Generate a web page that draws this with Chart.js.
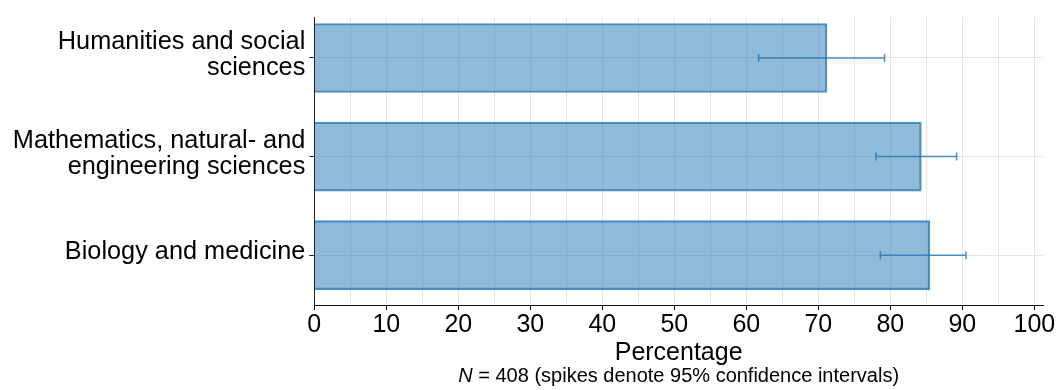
<!DOCTYPE html>
<html>
<head>
<meta charset="utf-8">
<script src="https://cdn.jsdelivr.net/npm/chart.js@4/dist/chart.umd.min.js"></script>
<style>
  html, body { margin: 0; padding: 0; background: #fff; }
  #wrap { width: 1059px; height: 390px; }
</style>
</head>
<body>
<div id="wrap"><canvas id="chart" width="1059" height="390"></canvas></div>
<script>
// Share of respondents per field, with 95% confidence limits
const categories = [
  ['Humanities and social', 'sciences'],
  ['Mathematics, natural- and', 'engineering sciences'],
  ['Biology and medicine']
];
const shares = [71.2, 84.3, 85.5];
const ciLower = [61.7, 78.0, 78.6];
const ciUpper = [79.2, 89.2, 90.5];
const xTickValues = [0, 5, 10, 15, 20, 25, 30, 35, 40, 45, 50, 55, 60, 65, 70, 75, 80, 85, 90, 95, 100];
const sampleSize = 408;

const FONT = '"Liberation Sans", Arial, sans-serif';
const BLUE = 'rgba(31,119,180,0.8)';

// Confidence-interval spikes drawn through the scales
const spikes = {
  id: 'spikes',
  afterDatasetsDraw(chart) {
    const { ctx, scales: { x, y } } = chart;
    ctx.save();
    ctx.strokeStyle = BLUE;
    ctx.lineWidth = 1.5;
    shares.forEach((_, i) => {
      const py = y.getPixelForValue(i);
      const x1 = x.getPixelForValue(ciLower[i]);
      const x2 = x.getPixelForValue(ciUpper[i]);
      ctx.beginPath();
      ctx.moveTo(x1, py); ctx.lineTo(x2, py);
      ctx.moveTo(x1, py - 4); ctx.lineTo(x1, py + 4);
      ctx.moveTo(x2, py - 4); ctx.lineTo(x2, py + 4);
      ctx.stroke();
    });
    ctx.restore();
  }
};

// Footnote under the axis title, with an italic N
const footnote = {
  id: 'footnote',
  afterDraw(chart) {
    const { ctx, chartArea } = chart;
    const parts = [
      { t: 'N', f: 'italic 20px ' + FONT },
      { t: ' = ' + sampleSize + ' (spikes denote 95% confidence intervals)', f: '20px ' + FONT }
    ];
    ctx.save();
    ctx.fillStyle = '#000';
    ctx.textBaseline = 'alphabetic';
    let total = 0;
    parts.forEach(p => { ctx.font = p.f; p.w = ctx.measureText(p.t).width; total += p.w; });
    let px = (chartArea.left + chartArea.right) / 2 - total / 2;
    parts.forEach(p => { ctx.font = p.f; ctx.fillText(p.t, px, 382.3); px += p.w; });
    ctx.restore();
  }
};

new Chart(document.getElementById('chart'), {
  type: 'bar',
  data: {
    datasets: [{
      data: shares.map((v, i) => ({ x: v, y: i })),
      backgroundColor: 'rgba(31,119,180,0.5)',
      borderColor: BLUE,
      borderWidth: 1.5,
      barThickness: 69
    }]
  },
  options: {
    indexAxis: 'y',
    responsive: false,
    animation: false,
    events: [],
    layout: { padding: { top: 13, right: 16, bottom: 0, left: 0 } },
    plugins: { legend: { display: false }, tooltip: { enabled: false } },
    scales: {
      x: {
        type: 'linear',
        min: 0,
        max: 101.2,
        afterBuildTicks: s => { s.ticks = xTickValues.map(v => ({ value: v })); },
        afterFit: s => { s.height = 85; },
        border: { color: '#111', width: 1 },
        grid: {
          color: '#e4e4e4',
          lineWidth: 1,
          tickLength: 5,
          tickColor: c => (c.tick && c.tick.value % 10 === 0) ? '#111' : 'rgba(0,0,0,0)'
        },
        ticks: {
          autoSkip: false,
          maxRotation: 0,
          padding: 2.5,
          color: '#000',
          font: { family: FONT, size: 25, lineHeight: 1.0 },
          callback: v => (v % 10 === 0 ? String(v) : '')
        },
        title: {
          display: true,
          text: 'Percentage',
          color: '#000',
          font: { family: FONT, size: 25, lineHeight: 1.0 },
          padding: { top: 0, bottom: 24 }
        }
      },
      y: {
        type: 'linear',
        reverse: true,
        offset: false,
        min: -0.415,
        max: 2.505,
        afterBuildTicks: s => { s.ticks = categories.map((_, i) => ({ value: i })); },
        afterFit: s => { s.width = 314.3; },
        border: { color: '#222', width: 1 },
        grid: { offset: false, color: '#e4e4e4', lineWidth: 1, tickLength: 5, tickColor: '#222' },
        ticks: {
          autoSkip: false,
          padding: 4,
          labelOffset: -3,
          color: '#000',
          font: { family: FONT, size: 25.3, lineHeight: 1.03 },
          callback: v => categories[v]
        }
      }
    }
  },
  plugins: [spikes, footnote]
});
</script>
</body>
</html>
